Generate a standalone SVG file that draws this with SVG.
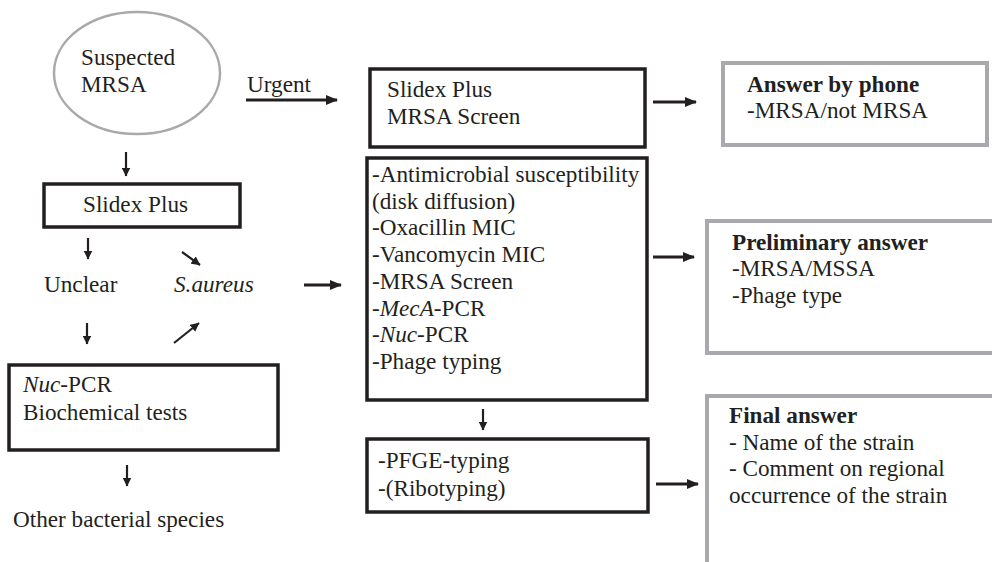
<svg xmlns="http://www.w3.org/2000/svg" width="992" height="562" viewBox="0 0 992 562">
<style>
text{font-family:"Liberation Serif","Times New Roman",serif;font-size:23.2px;fill:#231f20}
.b{font-weight:bold}
.i{font-style:italic}
.box{fill:#fff;stroke:#231f20;stroke-width:3.5}
.gbox{fill:#fff;stroke:#a7a9ac;stroke-width:4}
.ar{stroke:#231f20;stroke-width:3;fill:none;marker-end:url(#ah)}
.sa{stroke:#231f20;stroke-width:2.2;fill:none;marker-end:url(#ahs)}
</style>
<defs>
<marker id="ah" markerUnits="userSpaceOnUse" markerWidth="12" markerHeight="10" refX="11" refY="5" orient="auto"><path d="M0,0 L12,5 L0,10 Z" fill="#231f20"/></marker>
<marker id="ahs" markerUnits="userSpaceOnUse" markerWidth="9" markerHeight="9" refX="8.5" refY="4.5" orient="auto"><path d="M0,0 L9,4.5 L0,9 Z" fill="#231f20"/></marker>
</defs>
<g id="suspected">
<ellipse cx="137" cy="73" rx="83" ry="61" fill="#fff" stroke="#a7a9ac" stroke-width="2.5"/>
<text x="81" y="65">Suspected</text>
<text x="81" y="92">MRSA</text>
</g>
<g id="urgent-label"><text x="247" y="92">Urgent</text></g>
<g id="slidex-mrsa">
<rect class="box" x="370" y="69" width="275" height="78"/>
<text x="387" y="97">Slidex Plus</text>
<text x="387" y="124">MRSA Screen</text>
</g>
<g id="answer-phone">
<rect class="gbox" x="723" y="63" width="264" height="82"/>
<text class="b" x="747" y="92">Answer by phone</text>
<text x="747" y="118">-MRSA/not MRSA</text>
</g>
<g id="slidex-plus">
<rect class="box" x="44" y="184" width="196" height="43"/>
<text x="83" y="212">Slidex Plus</text>
</g>
<g id="unclear"><text x="44" y="292">Unclear</text></g>
<g id="saureus"><text class="i" x="174" y="292">S.aureus</text></g>
<g id="nuc-bio">
<rect class="box" x="9" y="365" width="269" height="85"/>
<text x="23" y="392"><tspan class="i">Nuc</tspan>-PCR</text>
<text x="23" y="420">Biochemical tests</text>
</g>
<g id="other"><text x="13" y="527">Other bacterial species</text></g>
<g id="tests">
<rect class="box" x="367" y="158" width="280" height="242"/>
<text x="372" y="182">-Antimicrobial susceptibility</text>
<text x="372" y="208.7">(disk diffusion)</text>
<text x="372" y="235.4">-Oxacillin MIC</text>
<text x="372" y="262">-Vancomycin MIC</text>
<text x="372" y="288.8">-MRSA Screen</text>
<text x="372" y="315.5">-<tspan class="i">MecA</tspan>-PCR</text>
<text x="372" y="342">-<tspan class="i">Nuc</tspan>-PCR</text>
<text x="372" y="369">-Phage typing</text>
</g>
<g id="preliminary">
<rect class="gbox" x="707" y="221" width="287" height="132"/>
<text class="b" x="732" y="250">Preliminary answer</text>
<text x="732" y="276">-MRSA/MSSA</text>
<text x="732" y="303">-Phage type</text>
</g>
<g id="pfge">
<rect class="box" x="367" y="439" width="281" height="73"/>
<text x="378" y="468">-PFGE-typing</text>
<text x="378" y="496">-(Ribotyping)</text>
</g>
<g id="final">
<rect class="gbox" x="707" y="396" width="290" height="180"/>
<text class="b" x="729" y="423">Final answer</text>
<text x="729" y="450">- Name of the strain</text>
<text x="729" y="476">- Comment on regional</text>
<text x="729" y="503">occurrence of the strain</text>
</g>
<g id="connectors">
<line class="ar" x1="246" y1="100" x2="337" y2="100"/>
<line class="ar" x1="653" y1="102" x2="696" y2="102"/>
<line class="sa" x1="126" y1="152" x2="126" y2="176"/>
<line class="sa" x1="88" y1="238" x2="88" y2="259"/>
<line class="sa" x1="182" y1="252" x2="200" y2="265"/>
<line class="ar" x1="304" y1="285" x2="341" y2="285"/>
<line class="sa" x1="87" y1="323" x2="87" y2="344"/>
<line class="sa" x1="174" y1="343" x2="199" y2="323"/>
<line class="sa" x1="127" y1="465" x2="127" y2="486"/>
<line class="ar" x1="653" y1="257" x2="694" y2="257"/>
<line class="sa" x1="483" y1="409" x2="483" y2="430"/>
<line class="ar" x1="656" y1="484" x2="698" y2="484"/>
</g>
</svg>
